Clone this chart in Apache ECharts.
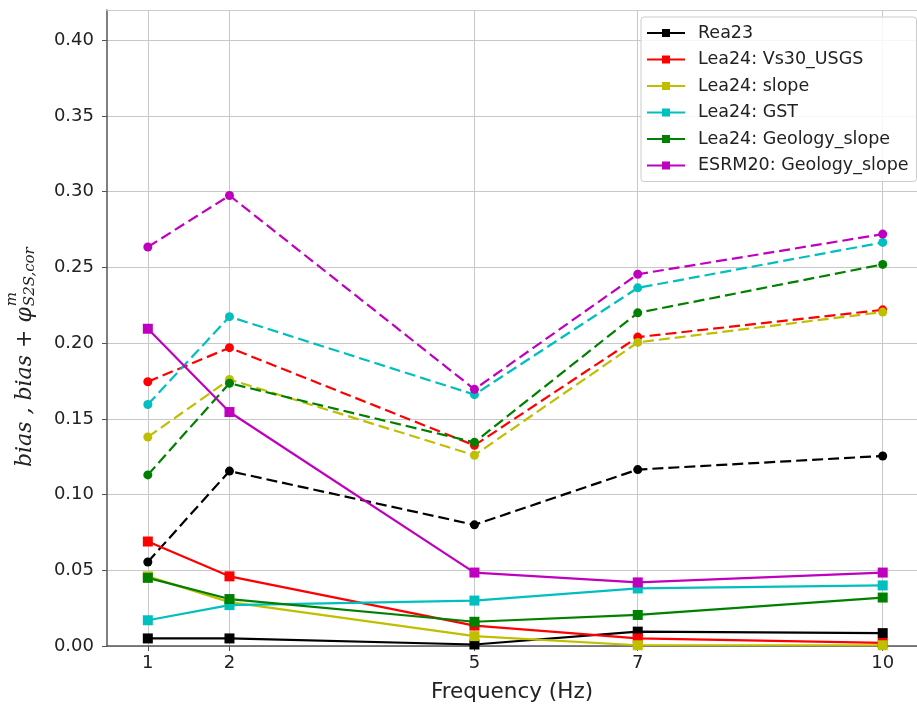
<!DOCTYPE html>
<html><head><meta charset="utf-8">
<script src="https://cdn.jsdelivr.net/npm/echarts@6/dist/echarts.min.js"></script>
<style>html,body{margin:0;padding:0;background:#fff}#c{width:917px;height:708px}</style>
</head><body><div id="c"></div>
<script>
const freqs = [1, 2, 5, 7, 10];
const modelNames = ['Rea23', 'Lea24: Vs30_USGS', 'Lea24: slope', 'Lea24: GST', 'Lea24: Geology_slope', 'ESRM20: Geology_slope'];
const modelColors = ['#000000', '#ff0000', '#bfbf00', '#00bfbf', '#008000', '#bf00bf'];
// bias (solid lines, square markers)
const biasRea23 = [0.005, 0.005, 0.001, 0.0095, 0.0085];
const biasVs30 = [0.069, 0.046, 0.0135, 0.005, 0.002];
const biasSlope = [0.046, 0.029, 0.0065, 0.0005, 0.0005];
const biasGST = [0.017, 0.027, 0.030, 0.038, 0.040];
const biasGeo = [0.045, 0.031, 0.016, 0.0205, 0.032];
const biasESRM = [0.2095, 0.1545, 0.0485, 0.042, 0.0485];
// bias + phi (dashed lines, circle markers)
const totRea23 = [0.0555, 0.1155, 0.080, 0.1165, 0.1255];
const totVs30 = [0.1745, 0.197, 0.1325, 0.204, 0.222];
const totSlope = [0.138, 0.176, 0.126, 0.2005, 0.2205];
const totGST = [0.1595, 0.2175, 0.166, 0.2365, 0.2665];
const totGeo = [0.113, 0.1735, 0.1345, 0.220, 0.252];
const totESRM = [0.2635, 0.2975, 0.1695, 0.2455, 0.272];
const yTickLabels = ['0.00', '0.05', '0.10', '0.15', '0.20', '0.25', '0.30', '0.35', '0.40'];
const xLabel = 'Frequency (Hz)';

const biasData = [biasRea23, biasVs30, biasSlope, biasGST, biasGeo, biasESRM];
const totData = [totRea23, totVs30, totSlope, totGST, totGeo, totESRM];

const series = [];
modelNames.forEach((name, i) => {
  series.push({
    name: name, type: 'line', data: freqs.map((f, k) => [f, biasData[i][k]]),
    symbol: 'rect', symbolSize: 10, color: modelColors[i],
    lineStyle: { width: 2.2, color: modelColors[i] }, itemStyle: { color: modelColors[i] },
    animation: false, clip: true
  });
  series.push({
    name: name + ' (bias + phi)', type: 'line', data: freqs.map((f, k) => [f, totData[i][k]]),
    symbol: 'circle', symbolSize: 9, color: modelColors[i],
    lineStyle: { width: 2.2, type: [11, 5], color: modelColors[i] }, itemStyle: { color: modelColors[i] },
    animation: false, clip: true
  });
});

// measure main y-label text
const cv = document.createElement('canvas').getContext('2d');
const mainFont = 'italic 22px "DejaVu Serif"';
cv.font = mainFont;
const mainTxt = 'bias , bias + φ';
const mainW = cv.measureText(mainTxt).width;

const chart = echarts.init(document.getElementById('c'), null, { renderer: 'canvas' });
chart.setOption({
  backgroundColor: '#ffffff',
  animation: false,
  grid: { left: 107, right: 0, top: 10, bottom: 61, show: false, containLabel: false },
  xAxis: [{
    type: 'value', min: 0.5, max: 10.42,
    name: xLabel, nameLocation: 'middle', nameGap: 35,
    nameTextStyle: { fontFamily: 'DejaVu Sans', fontSize: 21.5, color: '#222' },
    axisLine: { show: true, onZero: false, lineStyle: { color: '#555', width: 1.5 } },
    axisTick: { show: true, length: 5, customValues: freqs, lineStyle: { color: '#555' } },
    axisLabel: { customValues: freqs, margin: 8, fontFamily: 'DejaVu Sans', fontSize: 18, color: '#222' },
    splitLine: { show: true, lineStyle: { color: '#c8c8c8', width: 1 } }
  }, {
    type: 'value', min: 0.5, max: 10.42, position: 'top',
    axisLine: { show: true, onZero: false, lineStyle: { color: '#cccccc', width: 1.2 } },
    axisTick: { show: false }, axisLabel: { show: false }, splitLine: { show: false }
  }],
  yAxis: {
    type: 'value', min: 0, max: 0.42, interval: 0.05,
    axisLine: { show: true, lineStyle: { color: '#555', width: 1.5 } },
    axisTick: { show: true, length: 5, lineStyle: { color: '#555' } },
    axisLabel: { margin: 13, fontFamily: 'DejaVu Sans', fontSize: 18, color: '#222', showMaxLabel: false,
      formatter: v => { const i = Math.round(v / 0.05); return Math.abs(v - i * 0.05) < 1e-9 && yTickLabels[i] ? yTickLabels[i] : ''; } },
    splitLine: { show: true, lineStyle: { color: '#c8c8c8', width: 1 } }
  },
  legend: {
    data: modelNames, orient: 'vertical', left: 641, top: 17,
    padding: [7, 8, 7, 5], itemGap: 8.5, itemWidth: 38, itemHeight: 10,
    backgroundColor: 'rgba(255,255,255,0.85)', borderColor: '#cccccc', borderWidth: 1, borderRadius: 3,
    textStyle: { fontFamily: 'DejaVu Sans', fontSize: 17.5, color: '#222', padding: [0, 0, 0, 8] }
  },
  graphic: [{
    type: 'group', x: 25, y: 467, rotation: Math.PI / 2,
    children: [
      { type: 'text', x: 0, y: 0, style: { text: mainTxt, font: mainFont, fill: '#222', verticalAlign: 'middle', align: 'left' } },
      { type: 'text', x: mainW + 1, y: -13, style: { text: 'm', font: 'italic 15px "DejaVu Serif"', fill: '#222', verticalAlign: 'middle', align: 'left' } },
      { type: 'text', x: mainW + 1, y: 5, style: { text: 'S2S,cor', font: 'italic 15px "DejaVu Serif"', fill: '#222', verticalAlign: 'middle', align: 'left' } }
    ]
  }],
  series: series
});
</script></body></html>
